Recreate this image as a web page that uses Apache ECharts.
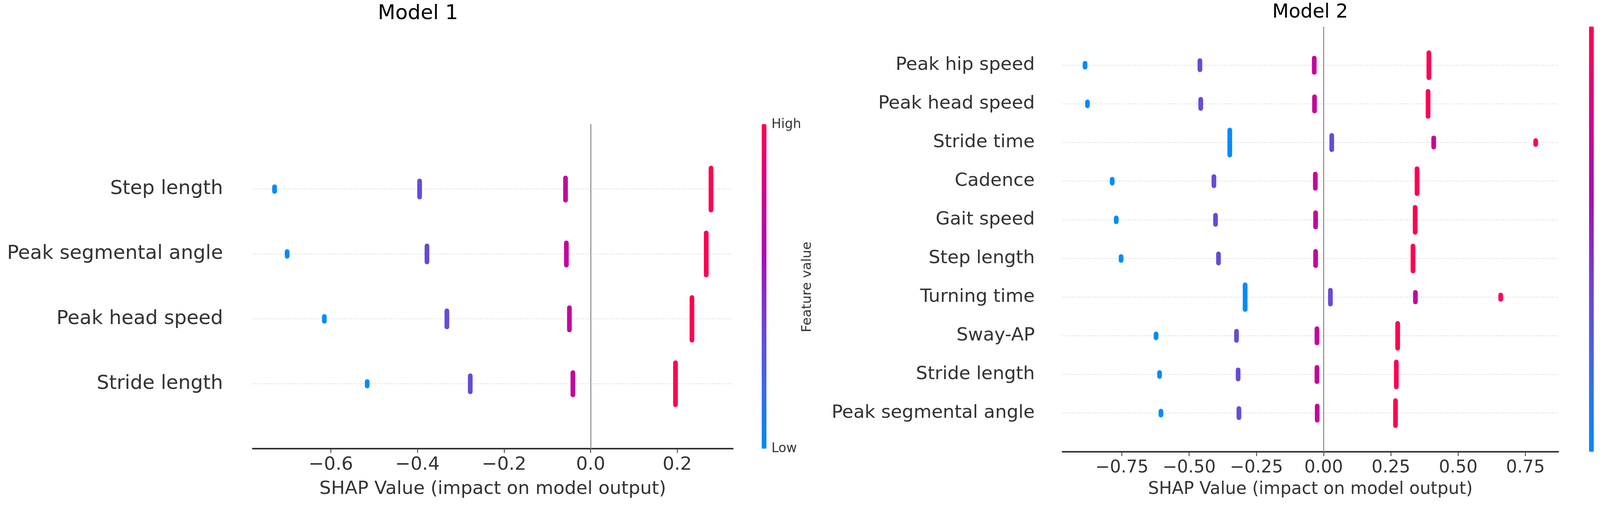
<!DOCTYPE html>
<html>
<head>
<meta charset="utf-8">
<script src="https://cdn.jsdelivr.net/npm/echarts@6/dist/echarts.min.js"></script>
<style>
html,body{margin:0;padding:0;background:#ffffff;}
#chart{width:4212px;height:1301px;}
</style>
</head>
<body>
<div id="chart"></div>
<script>
// ---------------- DATA ----------------
// feature-value level of each group of points (low -> high)
const featureLevels = [0, 0.35, 0.72, 1];
const colorbarColors = ['#008bfb', '#3e68ea', '#7440d0', '#a80eb4', '#d6008c', '#ff0051'];
const xAxisTitle = 'SHAP Value (impact on model output)';

// Model 1 (features listed top to bottom)
const m1Title = 'Model 1';
const m1Features = ['Step length', 'Peak segmental angle', 'Peak head speed', 'Stride length'];
const m1ShapLow     = [-0.730, -0.701, -0.615, -0.516];
const m1ShapMidLow  = [-0.395, -0.378, -0.332, -0.278];
const m1ShapMidHigh = [-0.058, -0.056, -0.049, -0.041];
const m1ShapHigh    = [ 0.278,  0.267,  0.234,  0.196];
// vertical stacking extent of each group (in row units)
const m1SpreadLow     = [0.145, 0.145, 0.145, 0.14];
const m1SpreadMidLow  = [0.32, 0.32, 0.32, 0.32];
const m1SpreadMidHigh = [0.415, 0.415, 0.415, 0.415];
const m1SpreadHigh    = [0.72, 0.72, 0.73, 0.72];
const m1TickValues = [-0.6, -0.4, -0.2, 0.0, 0.2];
const m1TickLabels = ['\u22120.6', '\u22120.4', '\u22120.2', '0.0', '0.2'];

// Model 2 (features listed top to bottom)
const m2Title = 'Model 2';
const m2Features = ['Peak hip speed', 'Peak head speed', 'Stride time', 'Cadence', 'Gait speed',
  'Step length', 'Turning time', 'Sway-AP', 'Stride length', 'Peak segmental angle'];
const m2ShapLow     = [-0.887, -0.878, -0.349, -0.786, -0.771, -0.753, -0.292, -0.623, -0.610, -0.605];
const m2ShapMidLow  = [-0.460, -0.457,  0.030, -0.408, -0.402, -0.391,  0.025, -0.324, -0.318, -0.315];
const m2ShapMidHigh = [-0.035, -0.034,  0.409, -0.031, -0.030, -0.030,  0.341, -0.025, -0.025, -0.024];
const m2ShapHigh    = [ 0.391,  0.388,  0.788,  0.347,  0.340,  0.332,  0.658,  0.275,  0.270,  0.267];
const m2SpreadLow     = [0.22, 0.22, 0.77, 0.22, 0.22, 0.22, 0.76, 0.22, 0.22, 0.22];
const m2SpreadMidLow  = [0.36, 0.36, 0.49, 0.36, 0.36, 0.36, 0.48, 0.36, 0.36, 0.36];
const m2SpreadMidHigh = [0.49, 0.49, 0.36, 0.49, 0.49, 0.49, 0.37, 0.49, 0.49, 0.49];
const m2SpreadHigh    = [0.77, 0.77, 0.22, 0.77, 0.77, 0.77, 0.23, 0.77, 0.77, 0.77];
const m2TickValues = [-0.75, -0.5, -0.25, 0.0, 0.25, 0.5, 0.75];
const m2TickLabels = ['\u22120.75', '\u22120.50', '\u22120.25', '0.00', '0.25', '0.50', '0.75'];

// ---------------- BUILD ----------------
const FONT = 'DejaVu Sans';
const MARK_W = 12;

function buildPoints(features, shapGroups, spreadGroups) {
  const n = features.length, out = [];
  features.forEach((f, i) => {
    for (let g = 0; g < 4; g++) {
      out.push([shapGroups[g][i], n - 1 - i, spreadGroups[g][i], featureLevels[g]]);
    }
  });
  return out;
}
function buildRows(features) {
  return features.map((f, i) => [0, i, 0, 0]);
}

function renderMark(params, api) {
  const x = api.value(0), y = api.value(1), h = api.value(2);
  const top = api.coord([x, y + h / 2]);
  const bot = api.coord([x, y - h / 2]);
  const r = MARK_W / 2;
  let y1 = top[1] + r, y2 = bot[1] - r;
  if (y1 > y2) { const m = (y1 + y2) / 2; y1 = m - 0.01; y2 = m + 0.01; }
  return {
    type: 'line',
    shape: { x1: top[0], y1: y1, x2: bot[0], y2: y2 },
    style: { stroke: api.visual('color'), lineWidth: MARK_W, lineCap: 'round' }
  };
}
function renderRow(params, api) {
  const y = api.coord([0, api.value(1)])[1];
  const cs = params.coordSys;
  return {
    type: 'line', silent: true,
    shape: { x1: cs.x, y1: y, x2: cs.x + cs.width, y2: y },
    style: { stroke: '#cccccc', lineWidth: 2, lineDash: [2, 4] }
  };
}

function labelFor(values, labels) {
  return function (v) {
    for (let i = 0; i < values.length; i++) if (Math.abs(values[i] - v) < 1e-9) return labels[i];
    return '';
  };
}

function makeX(gridIndex, tickValues, tickLabels, fs, nameFs, margin, nameGap) {
  return {
    type: 'value', gridIndex: gridIndex,
    min: v => v.min - 0.05 * (v.max - v.min),
    max: v => v.max + 0.05 * (v.max - v.min),
    name: xAxisTitle, nameLocation: 'middle', nameGap: nameGap,
    nameTextStyle: { fontFamily: FONT, fontSize: nameFs, color: '#333333', verticalAlign: 'middle' },
    axisLine: { show: true, onZero: false, lineStyle: { color: '#333333', width: 4 } },
    axisTick: { show: true, customValues: tickValues, length: 11, lineStyle: { color: '#333333', width: 2 } },
    axisLabel: { customValues: tickValues, formatter: labelFor(tickValues, tickLabels),
      fontFamily: FONT, fontSize: fs, color: '#333333', margin: margin },
    splitLine: { show: false }
  };
}
function makeY(gridIndex, features, fs, margin) {
  const n = features.length;
  const rows = features.map((f, i) => i);
  return {
    type: 'value', gridIndex: gridIndex, min: -1, max: n,
    axisLine: { show: false }, axisTick: { show: false }, splitLine: { show: false },
    axisLabel: { customValues: rows, formatter: v => features[n - 1 - Math.round(v)],
      fontFamily: FONT, fontSize: fs, color: '#333333', margin: margin }
  };
}

const zeroLine = {
  symbol: 'none', silent: true, animation: false,
  label: { show: false },
  lineStyle: { color: '#999999', width: 3, type: 'solid' },
  data: [{ xAxis: 0 }]
};

const m1Points = buildPoints(m1Features,
  [m1ShapLow, m1ShapMidLow, m1ShapMidHigh, m1ShapHigh],
  [m1SpreadLow, m1SpreadMidLow, m1SpreadMidHigh, m1SpreadHigh]);
const m2Points = buildPoints(m2Features,
  [m2ShapLow, m2ShapMidLow, m2ShapMidHigh, m2ShapHigh],
  [m2SpreadLow, m2SpreadMidLow, m2SpreadMidHigh, m2SpreadHigh]);

function txt(x, y, text, fs, opts) {
  return Object.assign({
    type: 'text', x: x, y: y, silent: true,
    style: Object.assign({ text: text, fontFamily: FONT, fontSize: fs, fill: '#333333',
      align: 'center', verticalAlign: 'middle' }, (opts && opts.style) || {})
  }, (opts && opts.el) || {});
}

const option = {
  backgroundColor: '#ffffff',
  animation: false,
  grid: [
    { left: 647, top: 318, width: 1229, height: 831 },
    { left: 2720, top: 68, width: 1269, height: 1089 }
  ],
  xAxis: [
    makeX(0, m1TickValues, m1TickLabels, 47, 47, 18, 104),
    makeX(1, m2TickValues, m2TickLabels, 44.5, 44, 19, 97)
  ],
  yAxis: [
    makeY(0, m1Features, 50, 76),
    makeY(1, m2Features, 47, 71)
  ],
  visualMap: [
    { type: 'continuous', seriesIndex: 1, dimension: 3, min: 0, max: 1,
      calculable: false, padding: 0, left: 1950, top: 318, itemWidth: 12, itemHeight: 831,
      inRange: { color: colorbarColors } },
    { type: 'continuous', seriesIndex: 3, dimension: 3, min: 0, max: 1,
      calculable: false, padding: 0, left: 4068, top: 68, itemWidth: 12, itemHeight: 1089,
      inRange: { color: colorbarColors } }
  ],
  series: [
    { type: 'custom', xAxisIndex: 0, yAxisIndex: 0, renderItem: renderRow, data: buildRows(m1Features),
      encode: { x: 0, y: 1 }, z: 1, silent: true, markLine: zeroLine },
    { type: 'custom', xAxisIndex: 0, yAxisIndex: 0, renderItem: renderMark, data: m1Points,
      encode: { x: 0, y: 1 }, z: 5 },
    { type: 'custom', xAxisIndex: 1, yAxisIndex: 1, renderItem: renderRow, data: buildRows(m2Features),
      encode: { x: 0, y: 1 }, z: 1, silent: true, markLine: zeroLine },
    { type: 'custom', xAxisIndex: 1, yAxisIndex: 1, renderItem: renderMark, data: m2Points,
      encode: { x: 0, y: 1 }, z: 5 }
  ],
  graphic: [
    txt(1070, 35, m1Title, 52, { style: { fill: '#000000' } }),
    txt(3354, 32, m2Title, 49, { style: { fill: '#000000' } }),
    txt(1975, 319, 'High', 33, { style: { align: 'left' } }),
    txt(1975, 1149, 'Low', 33, { style: { align: 'left' } }),
    txt(2067, 735, 'Feature value', 34, { el: { rotation: Math.PI / 2 } }),
    txt(4093, 70, 'High', 31, { style: { align: 'left' } }),
    txt(4093, 1160, 'Low', 31, { style: { align: 'left' } }),
    txt(4185, 612, 'Feature value', 32, { el: { rotation: Math.PI / 2 } })
  ]
};

const chart = echarts.init(document.getElementById('chart'), null, { renderer: 'canvas' });
chart.setOption(option);
</script>
</body>
</html>
